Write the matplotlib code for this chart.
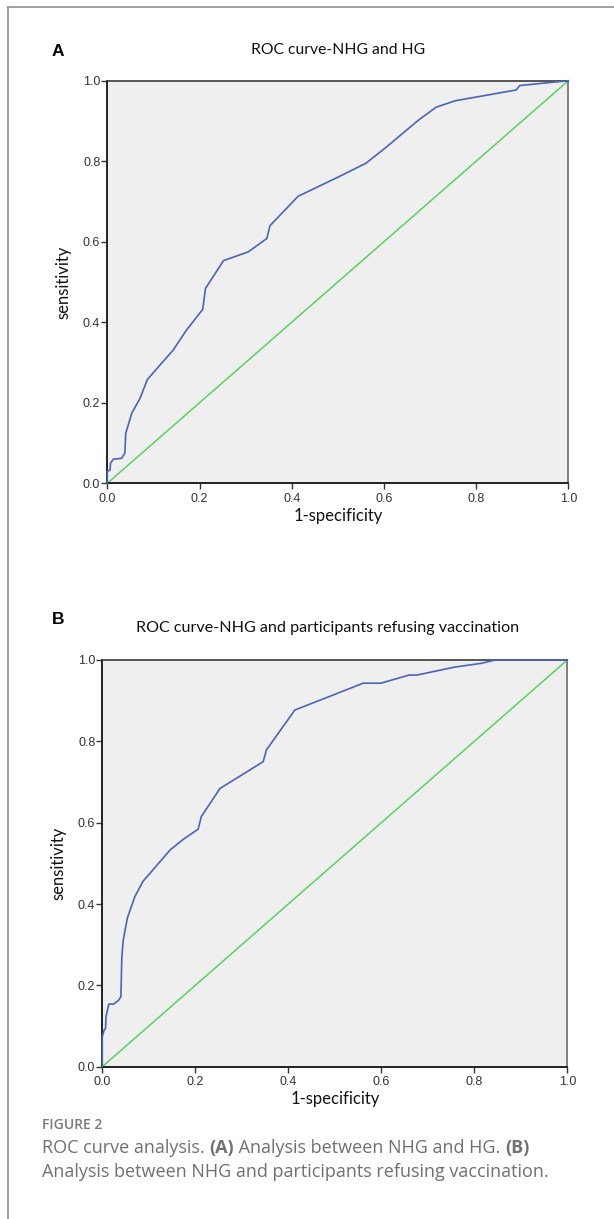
import matplotlib
matplotlib.use("Agg")
import matplotlib.pyplot as plt
from matplotlib.lines import Line2D

# ROC coordinates (1-specificity, sensitivity)
fpr_hg = [0.0, 0.0, 0.006, 0.007, 0.013, 0.031, 0.038, 0.040, 0.053, 0.071, 0.087,
          0.143, 0.172, 0.207, 0.213, 0.252, 0.306, 0.346, 0.353, 0.414, 0.505,
          0.561, 0.602, 0.675, 0.713, 0.754, 0.887, 0.895, 1.0]
tpr_hg = [0.0, 0.030, 0.033, 0.050, 0.060, 0.062, 0.075, 0.124, 0.174, 0.211, 0.258,
          0.331, 0.381, 0.432, 0.484, 0.553, 0.575, 0.608, 0.640, 0.713, 0.763,
          0.795, 0.832, 0.902, 0.934, 0.950, 0.977, 0.988, 1.0]

fpr_ref = [0.0, 0.0, 0.004, 0.007, 0.008, 0.014, 0.024, 0.034, 0.040, 0.042, 0.045,
           0.054, 0.070, 0.087, 0.146, 0.174, 0.206, 0.213, 0.253, 0.346, 0.353,
           0.414, 0.490, 0.561, 0.599, 0.660, 0.677, 0.755, 0.816, 0.845, 1.0]
tpr_ref = [0.0, 0.074, 0.090, 0.094, 0.123, 0.154, 0.154, 0.162, 0.172, 0.270, 0.311,
           0.366, 0.418, 0.455, 0.533, 0.559, 0.584, 0.615, 0.684, 0.750, 0.779,
           0.877, 0.911, 0.943, 0.943, 0.963, 0.963, 0.982, 0.992, 1.0, 1.0]

ticks = [0.0, 0.2, 0.4, 0.6, 0.8, 1.0]
tick_labels = ["0.0", "0.2", "0.4", "0.6", "0.8", "1.0"]

titles = ["ROC curve-NHG and HG", "ROC curve-NHG and participants refusing vaccination"]
panel_letters = ["A", "B"]

BLUE = "#4a64b8"
GREEN = "#5ccf62"
TITLE_FONT = ["Lato", "DejaVu Sans"]
TICK_FONT = ["Liberation Sans", "DejaVu Sans"]
CAPTION_FONT = ["Open Sans", "DejaVu Sans"]
CAPTION_GRAY = "#707070"

fig = plt.figure(figsize=(6.14, 12.19), dpi=100)

# outer frame (left and top edges only)
fig.add_artist(Line2D([7.5 / 614, 7.5 / 614], [0, 1 - 6.5 / 1219],
                      transform=fig.transFigure, color="#9a9a9a", lw=1.3))
fig.add_artist(Line2D([7.5 / 614, 1.0], [1 - 6.5 / 1219, 1 - 6.5 / 1219],
                      transform=fig.transFigure, color="#9a9a9a", lw=1.3))

ax_a = fig.add_axes([107.3 / 614, 1 - 483.3 / 1219, 461 / 614, 402.6 / 1219])
ax_b = fig.add_axes([102.3 / 614, 1 - 1066.7 / 1219, 465 / 614, 406.7 / 1219])

curves = [(fpr_hg, tpr_hg), (fpr_ref, tpr_ref)]
for ax, (fx, ty) in zip([ax_a, ax_b], curves):
    ax.set_facecolor("#efefef")
    ax.plot([0, 1], [0, 1], color=GREEN, lw=1.1, zorder=2)
    ax.plot(fx, ty, color=BLUE, lw=1.2, zorder=3, clip_on=False)
    ax.set_xlim(0, 1)
    ax.set_ylim(0, 1)
    ax.set_xticks(ticks)
    ax.set_yticks(ticks)
    ax.set_xticklabels(tick_labels, family=TICK_FONT, fontsize=9, color="#333333")
    ax.set_yticklabels(tick_labels, family=TICK_FONT, fontsize=9, color="#333333")
    ax.tick_params(direction="out", length=4, width=1.0, color="#333333", pad=1)
    ax.tick_params(axis="x", pad=3)
    for side in ["left", "bottom"]:
        ax.spines[side].set_color("#222222")
        ax.spines[side].set_linewidth(1.4)
    ax.spines["top"].set_color("#3a3a3a")
    ax.spines["top"].set_linewidth(1.2)
    ax.spines["right"].set_color("#808080")
    ax.spines["right"].set_linewidth(1.4)
    ax.set_xlabel("1-specificity", family=TITLE_FONT, fontsize=12, labelpad=2,
                  color="#111111")
    ax.set_ylabel("sensitivity", family=TITLE_FONT, fontsize=12, labelpad=8,
                  color="#111111")

# panel titles and letters
fig.text(338 / 614, 1 - 50 / 1219, titles[0], family=TITLE_FONT, fontsize=11.3,
         ha="center", va="center", color="#111111")
fig.text(328 / 614, 1 - 628 / 1219, titles[1], family=TITLE_FONT, fontsize=11.6,
         ha="center", va="center", color="#111111")
fig.text(58 / 614, 1 - 52 / 1219, panel_letters[0], family=TICK_FONT, fontsize=12.5,
         weight="bold", ha="center", va="center")
fig.text(58 / 614, 1 - 620 / 1219, panel_letters[1], family=TICK_FONT, fontsize=12.5,
         weight="bold", ha="center", va="center")

# caption
fig.text(42 / 614, 1 - 1125 / 1219, "FIGURE 2", family=CAPTION_FONT,
         fontsize=10, weight="semibold", color="#7a7a7a", ha="left", va="center")

caption_lines = [
    [("ROC curve analysis. ", "normal"), ("(A)", "bold"),
     (" Analysis between NHG and HG. ", "normal"), ("(B)", "bold")],
    [("Analysis between NHG and participants refusing vaccination.", "normal")],
]
caption_y = [1148, 1172]

fig.canvas.draw()
renderer = fig.canvas.get_renderer()
for line, y in zip(caption_lines, caption_y):
    x = 42 / 614
    for chunk, weight in line:
        t = fig.text(x, 1 - y / 1219, chunk, family=CAPTION_FONT,
                     fontsize=13, weight=weight, color=CAPTION_GRAY,
                     ha="left", va="center")
        bb = t.get_window_extent(renderer=renderer)
        x += bb.width / fig.bbox.width

fig.savefig("out.png", dpi=100)
